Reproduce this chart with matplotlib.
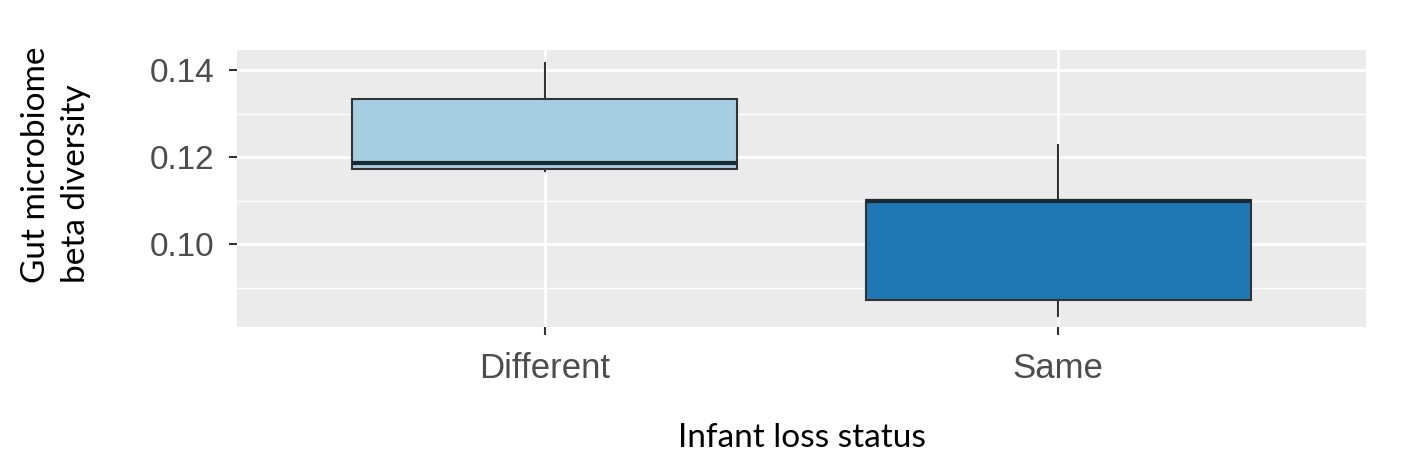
import matplotlib
matplotlib.use('Agg')
import matplotlib.pyplot as plt
from matplotlib.ticker import MultipleLocator

# Box statistics
groups = ['Different', 'Same']
whisker_low = [0.1168, 0.0835]
q1 = [0.1173, 0.0873]
medians = [0.1186, 0.1100]
q3 = [0.1333, 0.1102]
whisker_high = [0.1417, 0.1229]
fill_colors = ['#A6CEE3', '#1F78B4']
y_ticks = [0.10, 0.12, 0.14]

fig = plt.figure(figsize=(14.24, 4.72), dpi=100)
ax = fig.add_axes([0.1664, 0.3072, 0.7929, 0.5869])

stats = []
for i, g in enumerate(groups):
    stats.append({'label': g, 'whislo': whisker_low[i], 'q1': q1[i], 'med': medians[i],
                  'q3': q3[i], 'whishi': whisker_high[i], 'fliers': []})

bp = ax.bxp(stats, positions=[1, 2], widths=0.75, patch_artist=True, showcaps=False,
            boxprops=dict(edgecolor='#333333', linewidth=1.5),
            medianprops=dict(color='#1a2a33', linewidth=3),
            whiskerprops=dict(color='#333333', linewidth=1.5), zorder=3)
for patch, c in zip(bp['boxes'], fill_colors):
    patch.set_facecolor(c)

ax.set_facecolor('#EBEBEB')
ax.set_xlim(0.4, 2.6)
ax.set_ylim(0.0810, 0.1446)
ax.set_yticks(y_ticks)
ax.set_yticklabels([f'{v:.2f}' for v in y_ticks])
ax.yaxis.set_minor_locator(MultipleLocator(0.01))
ax.set_xticks([1, 2])
ax.set_xticklabels(groups)
ax.grid(which='major', color='white', linewidth=2, zorder=0)
ax.grid(which='minor', axis='y', color='white', linewidth=1, zorder=0)
ax.set_axisbelow(True)
for s in ax.spines.values():
    s.set_visible(False)
ax.tick_params(which='major', length=6, width=1.5, color='#333333',
               labelsize=24, labelcolor='#4D4D4D')
ax.tick_params(axis='y', pad=10)
ax.tick_params(axis='x', pad=12, labelsize=25)
ax.tick_params(which='minor', length=0)
for lab in ax.get_xticklabels() + ax.get_yticklabels():
    lab.set_family(['Liberation Sans', 'DejaVu Sans'])

ax.set_xlabel('Infant loss status', fontsize=24, family='Lato', color='black')
ax.xaxis.set_label_coords(0.5, -0.345)
ax.set_ylabel('Gut microbiome\nbeta diversity', fontsize=24, family='Lato', color='black',
              linespacing=1.4, ha='center', va='center', rotation_mode='default',
              multialignment='left')
ax.yaxis.set_label_coords(-0.160, 0.585)

fig.savefig('out.png', dpi=100)
